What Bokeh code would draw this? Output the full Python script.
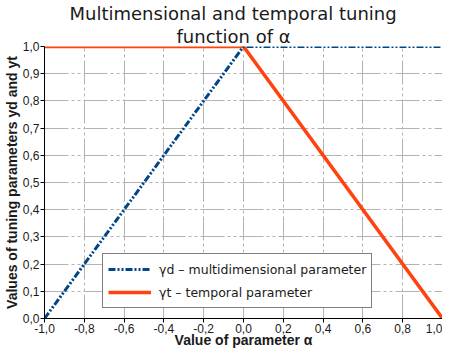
from bokeh.plotting import figure
from bokeh.models import FixedTicker, Title, Range1d
from bokeh.embed import file_html
from bokeh.resources import INLINE

alpha = [-1.0, 0.0, 1.0]
gamma_d = [0.0, 1.0, 1.0]
gamma_t = [1.0, 1.0, 0.0]

x_ticks = [-1.0, -0.8, -0.6, -0.4, -0.2, 0.0, 0.2, 0.4, 0.6, 0.8, 1.0]
x_tick_labels = ["-1,0", "-0,8", "-0,6", "-0,4", "-0,2", "0,0", "0,2", "0,4", "0,6", "0,8", "1,0"]
y_ticks = [0.0, 0.1, 0.2, 0.3, 0.4, 0.5, 0.6, 0.7, 0.8, 0.9, 1.0]
y_tick_labels = ["0,0", "0,1", "0,2", "0,3", "0,4", "0,5", "0,6", "0,7", "0,8", "0,9", "1,0"]
x_title = "Value of parameter α"
y_title = "Values of tuning parameters yd and yt"

FONT = "Liberation Sans"
WFONT = "DejaVu Sans"

p = figure(width=442, height=350, output_backend="svg", toolbar_location=None,
           title=None, x_range=Range1d(-1, 1), y_range=Range1d(0, 1),
           min_border_left=0, min_border_right=0, min_border_top=0, min_border_bottom=0)
p.outline_line_color = None

p.add_layout(Title(text="function of α", align="left", text_font=WFONT,
                   text_font_size="18px", text_font_style="normal", text_color="#1a1a1a",
                   standoff=0, offset=132), "above")
p.add_layout(Title(text="Multimensional and temporal tuning", align="left", text_font=WFONT,
                   text_font_size="18px", text_font_style="normal", text_color="#1a1a1a",
                   standoff=0, offset=25), "above")

p.line(alpha, gamma_t, line_color="#ff420e", line_width=3.5,
       legend_label="γt – temporal parameter")
p.line(alpha, gamma_d, line_color="#004586", line_width=3, line_dash="7 2 2 2 2 2",
       legend_label="γd – multidimensional parameter")

items = p.legend[0].items
p.legend[0].items = [items[1], items[0]]

for ax, ticks, labels in ((p.xaxis, x_ticks, x_tick_labels), (p.yaxis, y_ticks, y_tick_labels)):
    ax.ticker = FixedTicker(ticks=ticks)
    ax.major_label_overrides = dict(zip(ticks, labels))
    ax.minor_tick_line_color = None
    ax.major_tick_in = 0
    ax.major_tick_out = 4
    ax.major_tick_line_color = "black"
    ax.axis_line_color = "black"
    ax.major_label_text_font = FONT
    ax.major_label_text_font_size = "12px"
    ax.major_label_text_color = "#1a1a1a"
    ax.major_label_standoff = 1
    ax.axis_label_text_font = FONT
    ax.axis_label_text_font_size = "14px"
    ax.axis_label_text_font_style = "bold"
    ax.axis_label_text_color = "#1a1a1a"

p.xaxis.axis_label = x_title
p.xaxis.axis_label_standoff = -4
p.yaxis.axis_label = y_title
p.yaxis.axis_label_standoff = 0

p.grid.grid_line_color = "#b3b3b3"
p.grid.grid_line_dash = "24 3 3 3 3 3"
p.grid.grid_line_width = 1

lg = p.legend[0]
lg.location = (58, 10)
lg.border_line_color = "black"
lg.border_line_width = 1
lg.background_fill_color = "white"
lg.background_fill_alpha = 1
lg.label_text_font = WFONT
lg.label_text_font_size = "12.5px"
lg.label_text_color = "#1a1a1a"
lg.glyph_width = 43
lg.glyph_height = 20
lg.label_height = 19
lg.label_standoff = 8
lg.spacing = 3
lg.padding = 5
lg.margin = 0

html = file_html(p, INLINE)
open("out.html", "w").write(html)
